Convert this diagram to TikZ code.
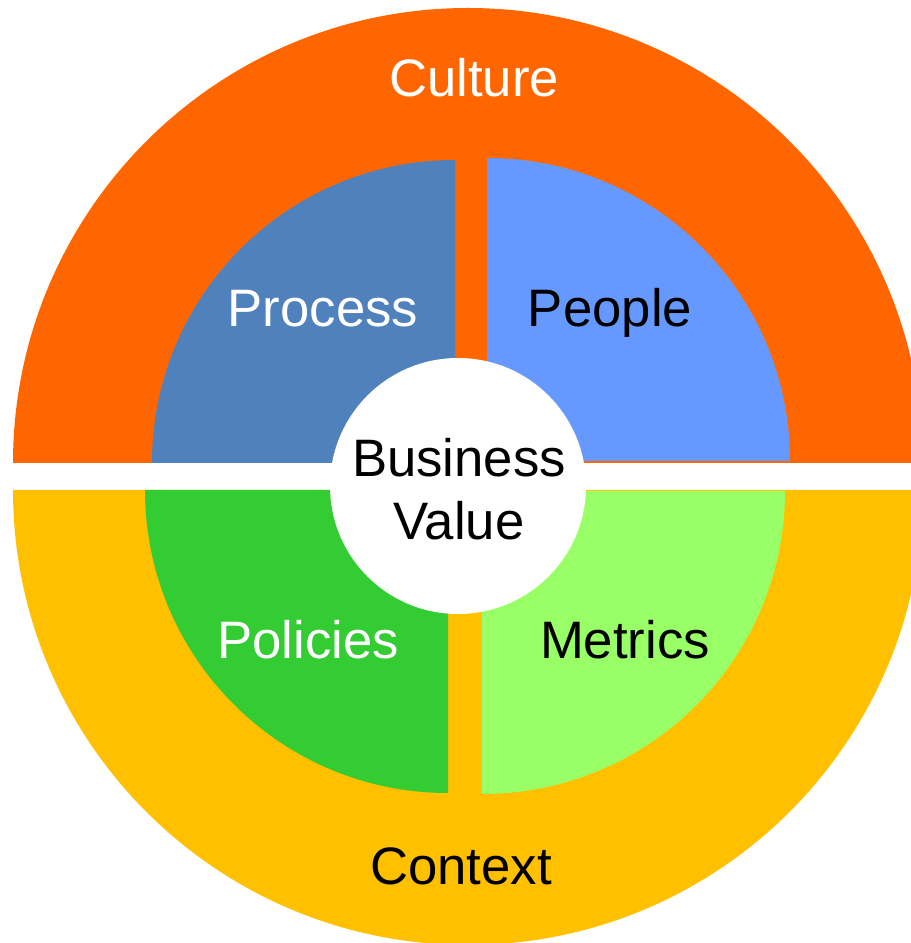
\documentclass[tikz,border=0pt]{standalone}
\usepackage{fontspec}
\setmainfont{Liberation Sans}
\usepackage{tikz}
\usetikzlibrary{math, calc}

\definecolor{cultura}{HTML}{FF6600}
\definecolor{contexto}{HTML}{FFC000}
\definecolor{proceso}{HTML}{4F81BD}
\definecolor{personas}{HTML}{6699FF}
\definecolor{politicas}{HTML}{33CC33}
\definecolor{metricas}{HTML}{99FF66}

\def\W{911}
\def\H{943}

\begin{document}
\begin{tikzpicture}[
	% unidades: 1 = 1 pixel de la imagen
	x = 0.02cm, y = 0.02cm,
	% Definición de nuevos estilos
	% 	a. sectores (sin borde)
	sector/.style = {
		fill = #1,
		draw = none
	},
	% 	b. textos
	etiqueta/.style = {
		anchor = base,
		inner sep = 0pt,
		font = \fontsize{30}{36.3}\selectfont,
		text = #1
	},
]

	% márgenes del dibujo
	\clip (0,0) rectangle (\W,\H);

	% definición de las variables
	\tikzmath{
		\R{ext} = 455; % radio del anillo exterior
		\R{int} = 303; % radio de los sectores interiores
		\R{cen} = 128; % radio del círculo central
	}

	% def. de las coordenadas importantes
	\coordinate (o1) at (468,480); % centro sup.
	\coordinate (o2) at (468,453); % centro inf.

	\coordinate (c1) at (455,480); % proceso
	\coordinate (c2) at (487,482); % personas
	\coordinate (c3) at (448,453); % políticas
	\coordinate (c4) at (482,452); % métricas

	\coordinate (c0) at (458,457); % valor

	% anillo exterior
	\fill[sector = cultura]
		(o1) -- ++(\R{ext},0) arc[start angle = 0, end angle = 180, radius = \R{ext}] -- cycle;
	\fill[sector = contexto]
		(o2) -- ++(-\R{ext},0) arc[start angle = 180, end angle = 360, radius = \R{ext}] -- cycle;

	% sectores interiores
	\fill[sector = proceso]
		(c1) -- ++(0,\R{int}) arc[start angle = 90, end angle = 180, radius = \R{int}] -- cycle;
	\fill[sector = personas]
		(c2) -- ++(\R{int},0) arc[start angle = 0, end angle = 90, radius = \R{int}] -- cycle;
	\fill[sector = politicas]
		(c3) -- ++(-\R{int},0) arc[start angle = 180, end angle = 270, radius = \R{int}] -- cycle;
	\fill[sector = metricas]
		(c4) -- ++(0,-\R{int}) arc[start angle = 270, end angle = 360, radius = \R{int}] -- cycle;

	% círculo central
	\fill[white] (c0) circle (\R{cen});

	% textos
	\node[etiqueta = white] (cultura)   at (474,846) {Culture};
	\node[etiqueta = white] (proceso)   at (323,616) {Process};
	\node[etiqueta = black] (personas)  at (610,616) {People};
	\node[etiqueta = black, align = center] (valor) at (459,403) {Business\\Value};
	\node[etiqueta = white] (politicas) at (308,284) {Policies};
	\node[etiqueta = black] (metricas)  at (625,284) {Metrics};
	\node[etiqueta = black] (contexto)  at (461,58)  {Context};

\end{tikzpicture}
\end{document}
